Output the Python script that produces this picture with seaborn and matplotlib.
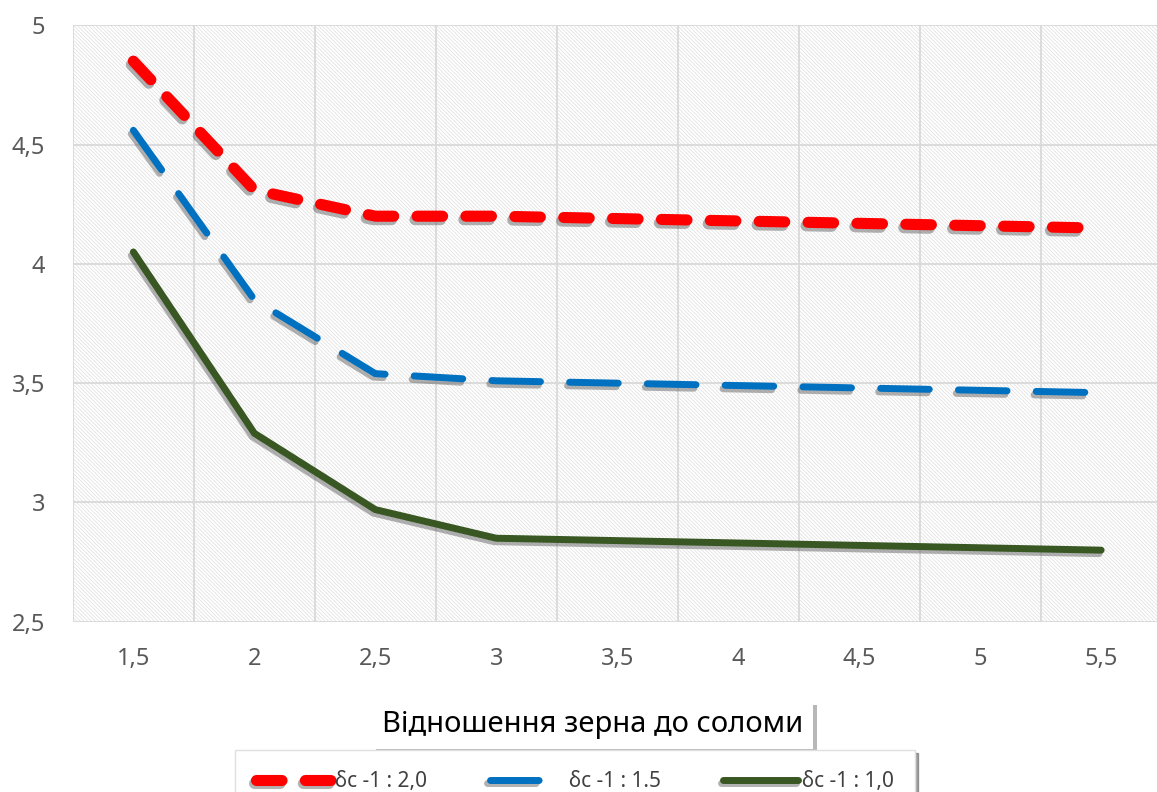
import matplotlib
matplotlib.use('Agg')
import matplotlib.pyplot as plt
import matplotlib.patheffects as pe
from matplotlib.patches import Rectangle
import seaborn as sns

# data
ratio = [1.5, 2.0, 2.5, 3.0, 3.5, 4.0, 4.5, 5.0, 5.5]
x_labels = ['1,5', '2', '2,5', '3', '3,5', '4', '4,5', '5', '5,5']
s_20 = [4.85, 4.31, 4.20, 4.20, 4.19, 4.18, 4.17, 4.16, 4.15]
s_15 = [4.56, 3.85, 3.54, 3.51, 3.50, 3.49, 3.48, 3.47, 3.46]
s_10 = [4.05, 3.29, 2.97, 2.85, 2.84, 2.83, 2.82, 2.81, 2.80]
names = ['δc -1 : 2,0', 'δc -1 : 1.5', 'δc -1 : 1,0']
y_ticks = [2.5, 3.0, 3.5, 4.0, 4.5, 5.0]
y_labels = ['2,5', '3', '3,5', '4', '4,5', '5']

sns.set_theme(style='white')
plt.rcParams['font.family'] = ['Noto Sans', 'DejaVu Sans']
plt.rcParams['hatch.linewidth'] = 0.5

fig = plt.figure(figsize=(11.57, 7.92), dpi=100)
ax = fig.add_axes([0.063, 0.215, 0.941, 0.753])

# hatched plot area
ax.add_patch(Rectangle((0, 0), 1, 1, transform=ax.transAxes, facecolor='white',
                       edgecolor='#dedede', linewidth=0, hatch='\\' * 9, zorder=0))

shadow = [pe.SimpleLineShadow(offset=(-1.5, -2.5), shadow_color='#555555', alpha=0.45),
          pe.Normal()]

styles = [
    (s_20, '#ff0000', 8.0, (2.3, 2.1)),
    (s_15, '#0070c0', 5.0, (7.0, 4.2)),
    (s_10, '#385723', 5.0, None),
]
handles = []
for (vals, color, lw, dash), name in zip(styles, names):
    sns.lineplot(x=ratio, y=vals, ax=ax, color=color, linewidth=lw, label=name, legend=False)
    line = ax.lines[-1]
    line.set_solid_capstyle('round')
    line.set_dash_capstyle('round')
    line.set_solid_joinstyle('round')
    if dash is not None:
        line.set_dashes(dash)
    line.set_path_effects(shadow)
    line.set_zorder(3)
    handles.append(line)

ax.set_xlim(1.25, 5.75)
ax.set_ylim(2.5, 5.0)
ax.set_xticks(ratio)
ax.set_xticklabels(x_labels)
ax.set_xticks([1.25 + 0.5 * i for i in range(10)], minor=True)
ax.set_yticks(y_ticks)
ax.set_yticklabels(y_labels)
ax.grid(False)
ax.grid(True, which='minor', axis='x', color='#d9d9d9', linewidth=1.3, zorder=1)
ax.grid(True, which='major', axis='y', color='#d9d9d9', linewidth=1.3, zorder=1)
ax.set_axisbelow(True)
ax.tick_params(axis='both', which='both', length=0, labelsize=17, colors='#595959')
ax.tick_params(axis='y', pad=20)
ax.tick_params(axis='x', pad=18)
for sp in ax.spines.values():
    sp.set_visible(False)

ax.set_xlabel('Відношення зерна до соломи', fontsize=21, color='black',
              bbox=dict(boxstyle='square,pad=0.35', facecolor='white', edgecolor='none'))
ax.xaxis.set_label_coords(0.477, -0.148)
lbl_box = ax.xaxis.label.get_bbox_patch()
lbl_box.set_path_effects([pe.SimplePatchShadow(offset=(3, -4), shadow_rgbFace='#888888', alpha=0.6),
                          pe.Normal()])

leg = fig.legend(handles=handles, labels=names, loc='upper center',
                 bbox_to_anchor=(0.497, 0.066), ncol=3, fontsize=15, frameon=True,
                 fancybox=False, shadow=True, edgecolor='#e0e0e0', handlelength=3.6,
                 columnspacing=3.0, handletextpad=0.2, borderpad=1.0)
for t in leg.get_texts():
    t.set_color('#404040')

fig.savefig('out.png', dpi=100)
